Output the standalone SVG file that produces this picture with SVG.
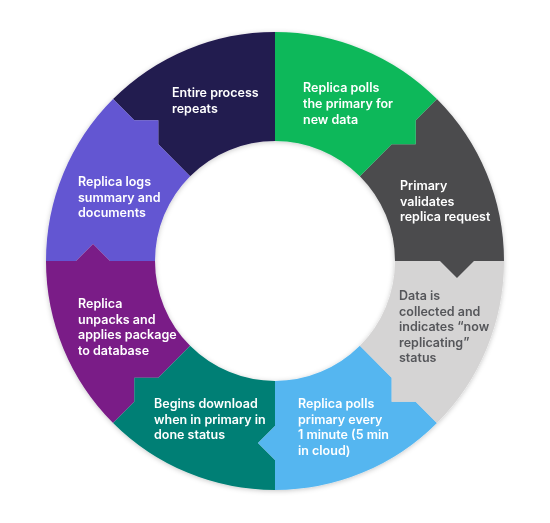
<svg xmlns="http://www.w3.org/2000/svg" width="550" height="523" viewBox="0 0 550 523">
  <style>
    .lbl { font-family: "Inter", "Open Sans", "Liberation Sans", sans-serif; font-size: 12.5px; font-weight: 600; fill: #ffffff; }
    .dark { fill: #55565a; }
  </style>
  <defs>
    <filter id="sh" x="-10%" y="-10%" width="120%" height="120%">
      <feDropShadow dx="0" dy="1" stdDeviation="2.5" flood-color="#000" flood-opacity="0.22"/>
    </filter>
    <path id="segA" d="M 275 141 L 275 32 A 229 229 0 0 1 436.93 99.07 L 415.71 120.29 L 415.71 144.33 L 391.67 144.33 L 359.85 176.15 A 120 120 0 0 0 275 141 Z"/>
    <path id="segB" d="M 275 141 L 275 96 L 292 79 L 275 62 L 275 32 A 229 229 0 0 1 436.93 99.07 L 415.71 120.29 L 415.71 144.33 L 391.67 144.33 L 359.85 176.15 A 120 120 0 0 0 275 141 Z"/>
    <path id="segC" d="M 275 141 L 275 96 L 292 79 L 275 62 L 275 32 A 229 229 0 0 1 436.93 99.07 L 359.85 176.15 A 120 120 0 0 0 275 141 Z"/>
  </defs>
  <rect width="550" height="523" fill="#ffffff"/>
  <g filter="url(#sh)">
    <g id="step-repeat"><use href="#segC" fill="#231a50" transform="rotate(315 275 261)"/></g>
    <g id="step-logs"><use href="#segB" fill="#6356d2" transform="rotate(270 275 261)"/></g>
    <g id="step-unpack"><use href="#segB" fill="#7a1c87" transform="rotate(225 275 261)"/></g>
    <g id="step-download"><use href="#segB" fill="#067f74" transform="rotate(180 275 261)"/></g>
    <g id="step-polls-every"><use href="#segB" fill="#55b6f0" transform="rotate(135 275 261)"/></g>
    <g id="step-collected"><use href="#segB" fill="#d5d4d4" transform="rotate(90 275 261)"/></g>
    <g id="step-validates"><use href="#segB" fill="#4b4b4e" transform="rotate(45 275 261)"/></g>
    <g id="step-polls"><use href="#segA" fill="#0cb85a"/></g>
  </g>
  <g id="labels">
    <text class="lbl" x="172" y="97"><tspan x="172">Entire process</tspan><tspan x="172" dy="16">repeats</tspan></text>
    <text class="lbl" x="303" y="92"><tspan x="303">Replica polls</tspan><tspan x="303" dy="16">the primary for</tspan><tspan x="303" dy="16">new data</tspan></text>
    <text class="lbl" x="400" y="190"><tspan x="400">Primary</tspan><tspan x="400" dy="15.7">validates</tspan><tspan x="400" dy="15.7">replica request</tspan></text>
    <text class="lbl dark" x="399" y="300"><tspan x="399">Data is</tspan><tspan x="399" dy="15.6">collected and</tspan><tspan x="399" dy="15.6">indicates “now</tspan><tspan x="399" dy="15.6">replicating”</tspan><tspan x="399" dy="15.6">status</tspan></text>
    <text class="lbl" x="298" y="408"><tspan x="298">Replica polls</tspan><tspan x="298" dy="15.7">primary every</tspan><tspan x="298" dy="15.7">1 minute (5 min</tspan><tspan x="298" dy="15.7">in cloud)</tspan></text>
    <text class="lbl" x="154" y="408"><tspan x="154">Begins download</tspan><tspan x="154" dy="15.7">when in primary in</tspan><tspan x="154" dy="15.7">done status</tspan></text>
    <text class="lbl" x="78" y="308"><tspan x="78">Replica</tspan><tspan x="78" dy="15.7">unpacks and</tspan><tspan x="78" dy="15.7">applies package</tspan><tspan x="78" dy="15.7">to database</tspan></text>
    <text class="lbl" x="78" y="186"><tspan x="78">Replica logs</tspan><tspan x="78" dy="15.7">summary and</tspan><tspan x="78" dy="15.7">documents</tspan></text>
  </g>
</svg>
